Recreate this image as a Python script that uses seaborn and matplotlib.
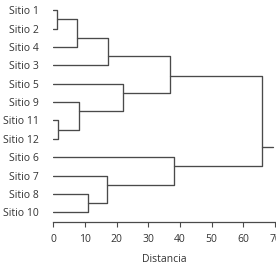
import matplotlib
matplotlib.use("Agg")
import matplotlib.pyplot as plt
import seaborn as sns
import pandas as pd

# ---- data ----
leaves = ["Sitio 1", "Sitio 2", "Sitio 4", "Sitio 3", "Sitio 5", "Sitio 9",
          "Sitio 11", "Sitio 12", "Sitio 6", "Sitio 7", "Sitio 8", "Sitio 10"]
# merges: child A, child B (leaf names or cluster ids), distance
merge_a = ["Sitio 1", "C1", "C2", "Sitio 11", "Sitio 9", "Sitio 5", "C3",
           "Sitio 8", "Sitio 7", "Sitio 6", "C7"]
merge_b = ["Sitio 2", "Sitio 4", "Sitio 3", "Sitio 12", "C4", "C6".replace("C6", "C5"), "C6",
           "Sitio 10", "C8", "C9", "C10"]
merge_h = [1.3, 7.4, 17.2, 1.6, 8.0, 21.9, 37.0, 11.0, 16.9, 38.1, 65.8]
root_end = 69.3
xticks = [0, 10, 20, 30, 40, 50, 60, 70]
xlabel = "Distancia"

# ---- layout (where the joining line sits between the two children) ----
join_frac = [0.5, 2 / 3, 2 / 3, 0.5, 1 / 3, 1 / 3, 0.55, 0.5, 1 / 3, 1 / 3, 0.78]

sns.set_theme(style="white")
plt.rcParams["font.family"] = ["Open Sans", "DejaVu Sans"]
line_c = "#4a4a4a"
text_c = "#333333"

pos = {name: (float(i), 0.0) for i, name in enumerate(leaves)}
rows = []
for k, (a, b, h, f) in enumerate(zip(merge_a, merge_b, merge_h, join_frac)):
    ya, ha = pos[a]
    yb, hb = pos[b]
    for x, y in [(ha, ya), (h, ya), (h, yb), (hb, yb)]:
        rows.append({"x": x, "y": y, "seg": k})
    pos[f"C{k + 1}"] = (ya + f * (yb - ya), h)
ry, rh = pos[f"C{len(merge_h)}"]
rows.append({"x": rh, "y": ry, "seg": 99})
rows.append({"x": root_end, "y": ry, "seg": 99})
df = pd.DataFrame(rows)

fig = plt.figure(figsize=(2.76, 2.65), dpi=100)
ax = fig.add_axes([53.3 / 276, 1 - 221.7 / 265, (275 - 53.3) / 276, 221.7 / 265])
sns.lineplot(data=df, x="x", y="y", units="seg", estimator=None, sort=False,
             color=line_c, linewidth=0.95, ax=ax, legend=False)

ax.set_xlim(0, 70)
ax.set_ylim(11.51, -0.56)
ax.set_yticks(range(len(leaves)))
ax.set_yticklabels(leaves)
ax.set_xticks(xticks)
ax.set_xticklabels([str(t) for t in xticks])
ax.set_xlabel(xlabel, fontsize=7.5, color=text_c, labelpad=7)
ax.set_ylabel("")
for s in ["top", "right", "left"]:
    ax.spines[s].set_visible(False)
ax.spines["bottom"].set_color(line_c)
ax.spines["bottom"].set_linewidth(0.9)
ax.tick_params(axis="y", length=0, pad=10.7, labelsize=7.5, labelcolor=text_c)
ax.tick_params(axis="x", bottom=True, direction="out", length=3.6, width=0.8,
               color=line_c, pad=5, labelsize=7.5, labelcolor=text_c)
ax.grid(False)
ax.set_facecolor("white")
fig.patch.set_facecolor("white")

fig.savefig("out.png", dpi=100)
